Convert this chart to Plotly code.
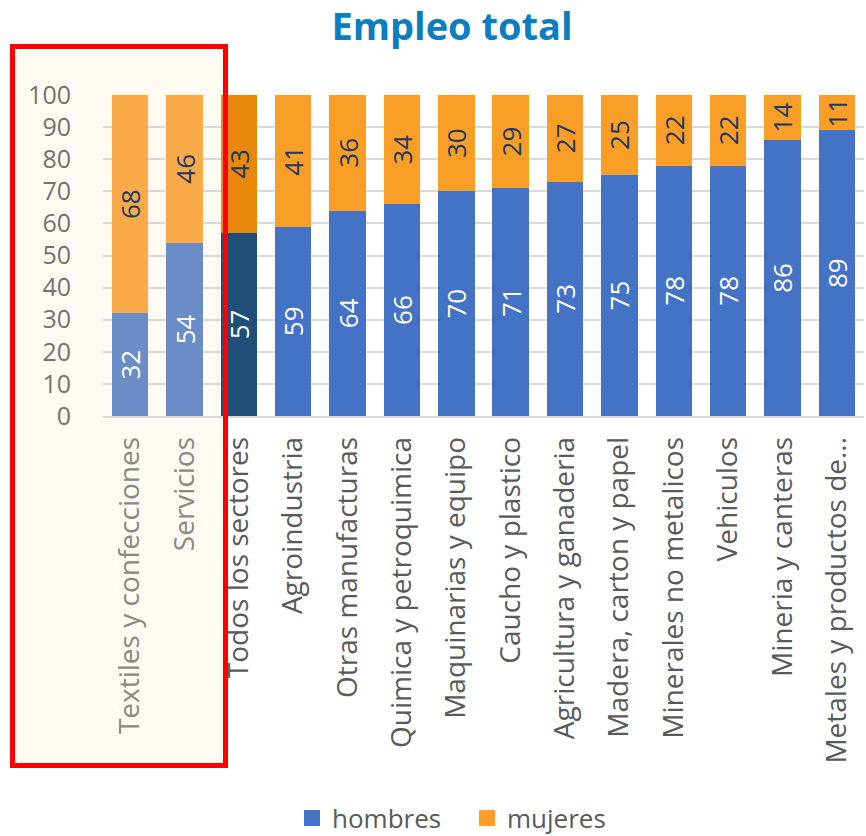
import plotly.graph_objects as go

categories = ["Textiles y confecciones", "Servicios", "Todos los sectores", "Agroindustria",
              "Otras manufacturas", "Quimica y petroquimica", "Maquinarias y equipo",
              "Caucho y plastico", "Agricultura y ganaderia", "Madera, carton y papel",
              "Minerales no metalicos", "Vehiculos", "Mineria y canteras", "Metales y productos de..."]
hombres = [32, 54, 57, 59, 64, 66, 70, 71, 73, 75, 78, 78, 86, 89]
mujeres = [68, 46, 43, 41, 36, 34, 30, 29, 27, 25, 22, 22, 14, 11]

FONT = "Open Sans"
n = len(categories)
H_COL, M_COL = "#4472C4", "#F99F28"
h_colors = ["#6A8CC7", "#6A8CC7", "#1F4E79"] + [H_COL] * (n - 3)
m_colors = ["#F8AB48", "#F8AB48", "#E8870A"] + [M_COL] * (n - 3)
tick_colors = ["#8A8784", "#8A8784"] + ["#595959"] * (n - 2)
ticktext = [f"<span style='color:{c}'>{t}</span>" for t, c in zip(categories, tick_colors)]

fig = go.Figure()
fig.add_trace(go.Bar(
    name="hombres", x=categories, y=hombres, showlegend=False,
    marker=dict(color=h_colors, line=dict(width=0)),
    text=hombres, texttemplate="%{text}", textposition="inside", textangle=-90,
    insidetextanchor="middle", constraintext="none",
    textfont=dict(family=FONT, size=26, color="white"),
))
fig.add_trace(go.Bar(
    name="mujeres", x=categories, y=mujeres, showlegend=False,
    marker=dict(color=m_colors, line=dict(width=0)),
    text=mujeres, texttemplate="%{text}", textposition="inside", textangle=-90,
    insidetextanchor="middle", constraintext="none",
    textfont=dict(family=FONT, size=26, color="#203864"),
))
# legend entries with larger square symbols
for name, col in [("hombres", H_COL), ("mujeres", M_COL)]:
    fig.add_trace(go.Scatter(x=[None], y=[None], mode="markers", name=name,
                             marker=dict(symbol="square", size=22, color=col)))

L, R, T, B = 103, 2, 95, 420
W, H = 866, 836
pw = W - L - R
ph = H - T - B

def px_x(p):
    return (p - L) / pw

def px_y(p):
    return (H - B - p) / ph

fig.add_shape(type="rect", xref="paper", yref="paper",
              x0=px_x(10), x1=px_x(228), y0=px_y(768), y1=px_y(44),
              fillcolor="#FFFAF2", line=dict(width=0), layer="below")
fig.add_shape(type="rect", xref="paper", yref="paper",
              x0=px_x(12.5), x1=px_x(225.5), y0=px_y(765.5), y1=px_y(46.5),
              fillcolor="rgba(0,0,0,0)", line=dict(color="#FF0000", width=5), layer="above")

fig.update_layout(
    width=W, height=H,
    barmode="stack", bargap=0.33,
    paper_bgcolor="white", plot_bgcolor="rgba(0,0,0,0)",
    margin=dict(l=L, r=R, t=T, b=B, pad=0, autoexpand=False),
    title=dict(text="<b>Empleo total</b>", x=452 / W, xref="container", xanchor="center",
               y=1 - 27 / H, yref="container", yanchor="middle",
               font=dict(family=FONT, size=38, color="#0B7DC1")),
    font=dict(family=FONT, size=27, color="#595959"),
    xaxis=dict(tickmode="array", tickvals=categories, ticktext=ticktext, tickangle=-90,
               tickfont=dict(family=FONT, size=28), showgrid=False, ticks="",
               showline=True, linecolor="#D9D9D9", linewidth=1.5,
               automargin=False, ticklabelstandoff=8),
    yaxis=dict(range=[0, 100], dtick=10, showgrid=True, gridcolor="#D9D9D9", gridwidth=1.5,
               tickfont=dict(family=FONT, size=25, color="#767171"), ticks="",
               zeroline=False, showline=False, ticklabelstandoff=31, automargin=False),
    legend=dict(orientation="h", x=292 / W, xanchor="left", xref="container",
                y=1 - 818 / H, yanchor="middle", yref="container",
                font=dict(family=FONT, size=26, color="#595959"), bgcolor="rgba(0,0,0,0)",
                itemwidth=30, entrywidth=130, traceorder="normal"),
    showlegend=True,
)
fig.write_html("out.html", config={"displayModeBar": False},
               post_script="document.body.style.margin='0';document.body.style.overflow='hidden';")
